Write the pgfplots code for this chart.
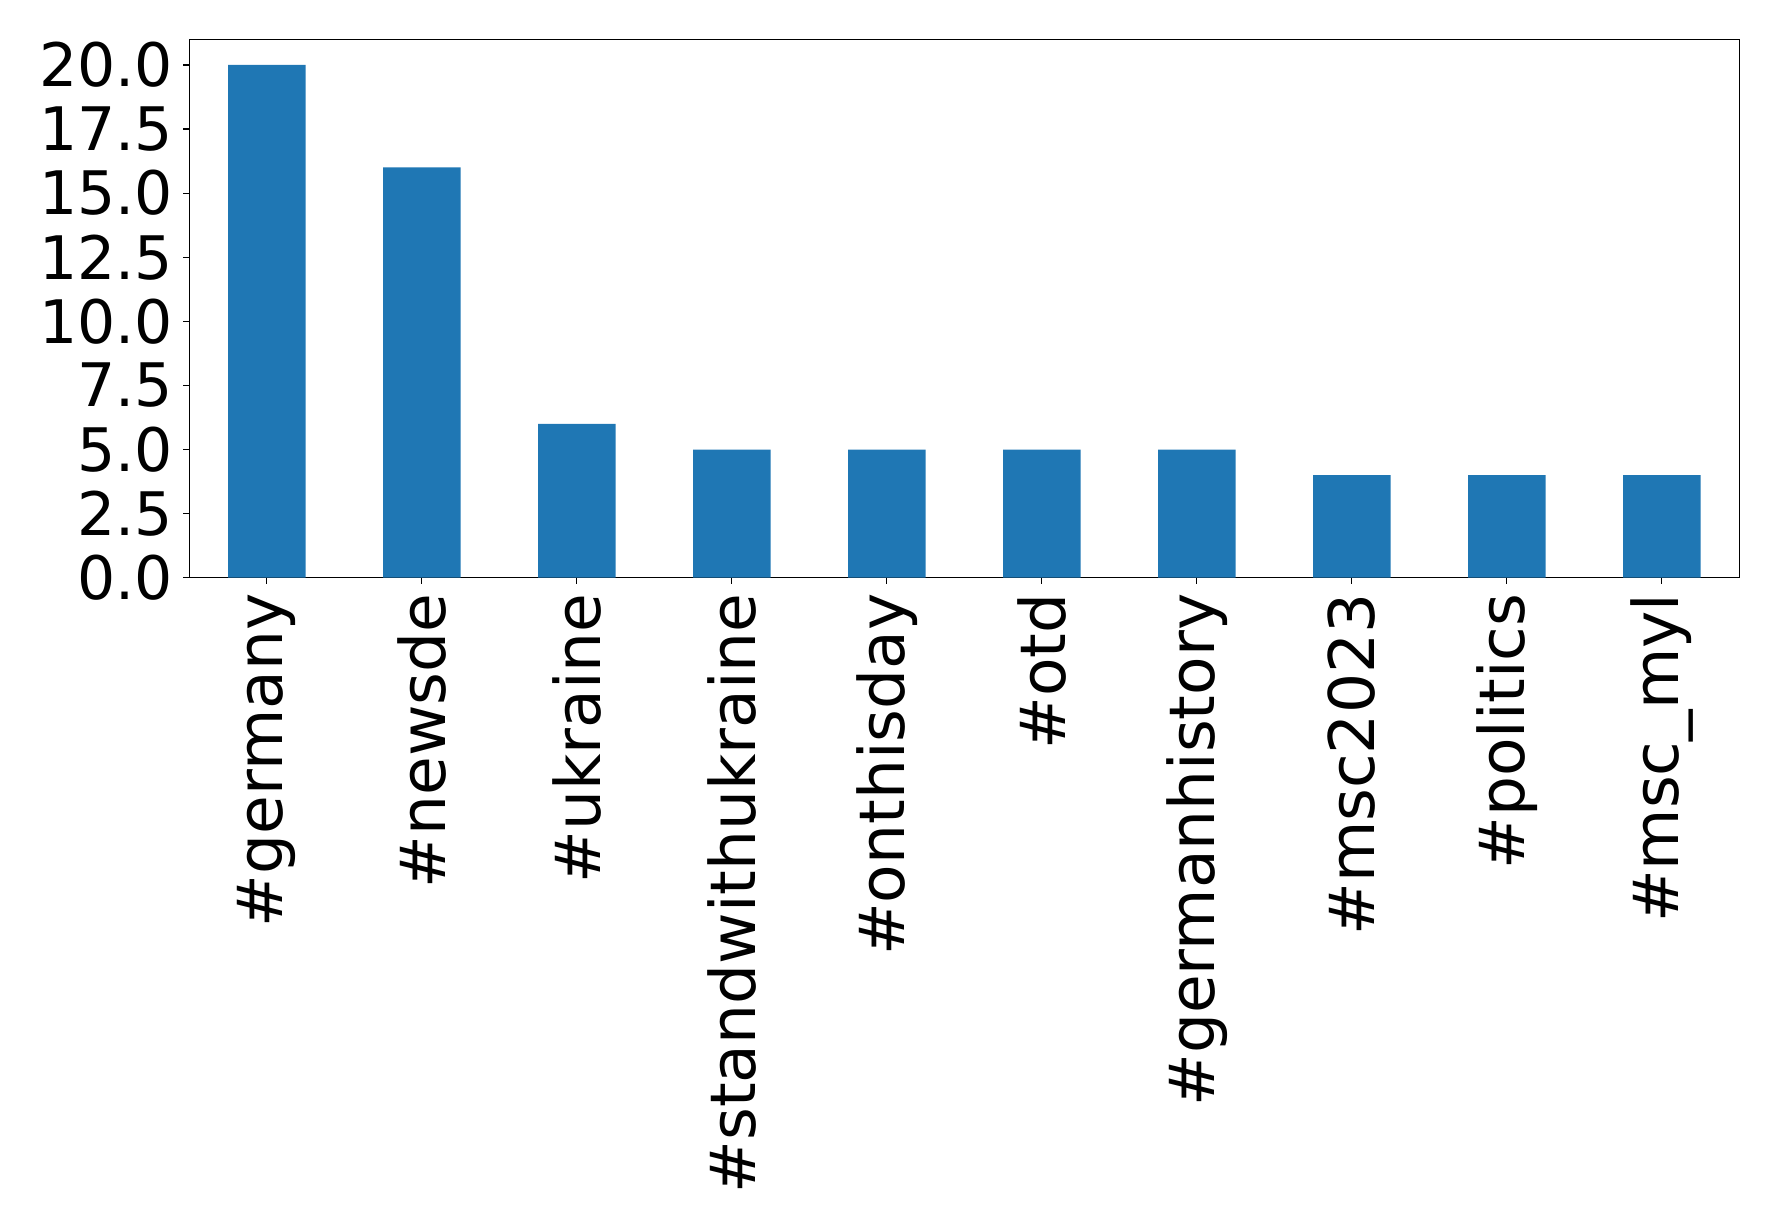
\documentclass[border=0pt]{standalone}
\usepackage{pgfplots}
\pgfplotsset{compat=1.18}
\usepackage{fontspec}
\setmainfont{DejaVu Sans}
\definecolor{mplblue}{HTML}{1F77B4}
\begin{document}
\fontsize{31.5}{37}\selectfont
\begin{tikzpicture}
\useasboundingbox (0,0) rectangle (889pt,611pt);
\begin{axis}[
  at={(94.65pt,322.15pt)}, anchor=south west,
  width=775pt, height=269.2pt, scale only axis,
  xmin=-0.5, xmax=9.5, ymin=0, ymax=21,
  xtick={0,...,9},
  xticklabels={\#germany,\#newsde,\#ukraine,\#standwithukraine,\#onthisday,\#otd,\#germanhistory,\#msc2023,\#politics,\#msc\_myl},
  x tick label style={rotate=90, anchor=east, inner sep=0pt, outer sep=0pt, font=\fontsize{31.5}{37}\selectfont},
  xticklabel shift=5pt,
  ytick={0,2.5,...,20},
  yticklabel style={/pgf/number format/fixed, /pgf/number format/fixed zerofill, /pgf/number format/precision=1, inner sep=0pt, font=\fontsize{30}{36}\selectfont},
  yticklabel shift=5pt,
  /pgf/number format/assume math mode=true,
  tick align=outside, tick pos=left,
  major tick length=3pt,
  every tick/.style={black, line width=0.6pt},
  axis line style={line width=0.6pt},
  ybar, bar width=0.5,
]
\addplot[fill=mplblue, draw=none] coordinates {(0,20) (1,16) (2,6) (3,5) (4,5) (5,5) (6,5) (7,4) (8,4) (9,4)};
\end{axis}
\end{tikzpicture}
\end{document}
